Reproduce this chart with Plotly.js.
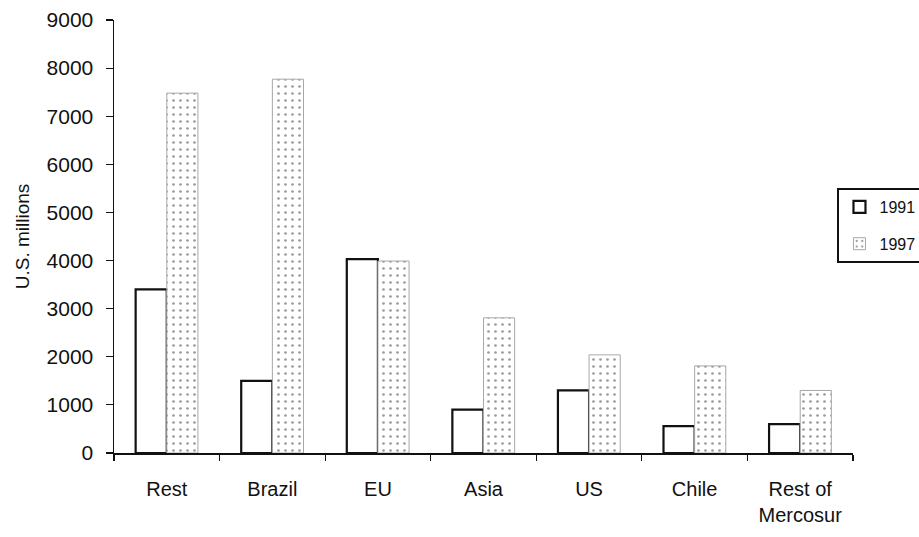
<!DOCTYPE html>
<html>
<head>
<meta charset="utf-8">
<script src="https://cdn.plot.ly/plotly-3.0.1.min.js"></script>
<style>html,body{margin:0;padding:0;background:#fff;}#chart{width:919px;height:537px;}</style>
</head>
<body>
<div id="chart"></div>
<script>
const categories = ["Rest", "Brazil", "EU", "Asia", "US", "Chile", "Rest of<br>Mercosur"];
const values1991 = [3400, 1500, 4030, 900, 1300, 560, 600];
const values1997 = [7480, 7770, 3990, 2810, 2040, 1810, 1300];
const yTicks = [0, 1000, 2000, 3000, 4000, 5000, 6000, 7000, 8000, 9000];

const fontFam = '"Liberation Sans", Arial, sans-serif';

const traces = [
  {
    type: 'bar', name: '1991', x: categories, y: values1991, legendgroup: 'a',
    marker: {color: '#ffffff', line: {color: '#111111', width: 2.2}}
  },
  {
    type: 'bar', name: '1997', x: categories, y: values1997, legendgroup: 'b',
    marker: {
      color: '#ffffff',
      line: {color: '#a8a8a8', width: 1},
      pattern: {shape: '.', fgcolor: '#9a9a9a', bgcolor: '#ffffff', size: 7, solidity: 0.12}
    }
  }
];

const layout = {
  width: 919, height: 537,
  margin: {l: 114, r: 66, t: 20, b: 84, autoexpand: false},
  paper_bgcolor: '#ffffff', plot_bgcolor: '#ffffff',
  font: {family: fontFam, size: 20, color: '#111111'},
  barmode: 'group', bargap: 0.41, bargroupgap: 0,
  showlegend: true,
  legend: {
    x: 0.979, y: 0.612, xanchor: 'left', yanchor: 'top',
    bordercolor: '#111111', borderwidth: 2, bgcolor: '#ffffff',
    font: {family: fontFam, size: 16, color: '#111111'},
    traceorder: 'grouped', tracegroupgap: 13,
    itemwidth: 30
  },
  xaxis: {
    type: 'category', showline: true, linecolor: '#111111', linewidth: 2.2,
    ticks: 'outside', tickson: 'boundaries', ticklen: 6, tickcolor: '#111111', tickwidth: 1.2,
    showgrid: false, zeroline: false, ticklabelstandoff: 17,
    tickfont: {family: fontFam, size: 20, color: '#111111'}
  },
  yaxis: {
    range: [0, 9000], tickvals: yTicks, ticktext: yTicks.map(String),
    showline: true, linecolor: '#111111', linewidth: 1.5,
    ticks: 'outside', ticklen: 7, tickcolor: '#111111', tickwidth: 1.2,
    showgrid: false, zeroline: false, ticklabelstandoff: 8,
    tickfont: {family: fontFam, size: 21, color: '#111111'},
    title: {text: 'U.S. millions', font: {family: fontFam, size: 19, color: '#111111'}, standoff: 12}
  }
};

Plotly.newPlot('chart', traces, layout, {displayModeBar: false, staticPlot: true});
</script>
</body>
</html>
